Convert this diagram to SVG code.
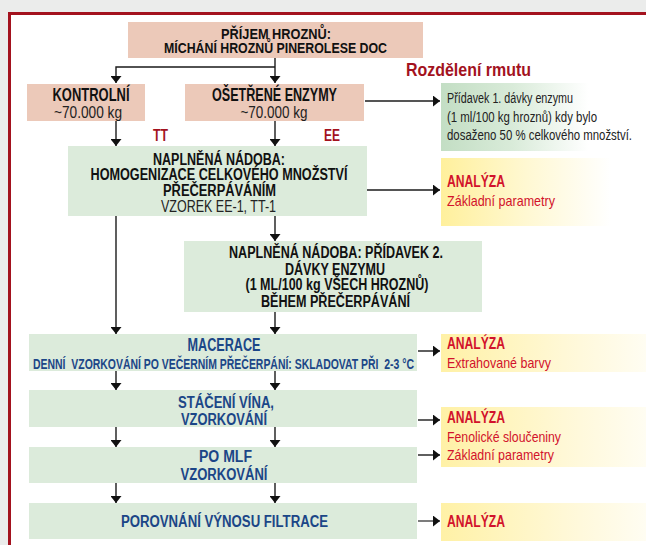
<svg xmlns="http://www.w3.org/2000/svg" width="646" height="545" viewBox="0 0 646 545">
<defs>
<style>
text{font-family:"Liberation Sans",Arial,sans-serif;}
.b{font-weight:bold;fill:#111;text-anchor:middle;font-size:16px;}
.r{fill:#222;text-anchor:middle;font-size:16px;}
.bl{font-weight:bold;fill:#1b4687;text-anchor:middle;font-size:16px;}
.an{font-weight:bold;fill:#d2122b;font-size:16px;}
.ans{fill:#d2122b;font-size:15px;}
.note{fill:#222;font-size:14px;}
.peach{fill:#ecc9b9;}
.green{fill:#dcebdb;}
.c path{fill:none;stroke:#1a1a1a;stroke-width:1.4;marker-end:url(#ah);}
</style>
<marker id="ah" markerUnits="userSpaceOnUse" viewBox="0 0 7 11" markerWidth="7" markerHeight="11" refX="7" refY="5.5" orient="auto">
<path d="M0,0 L7,5.5 L0,11 z" fill="#111"/>
</marker>
<linearGradient id="gGreen" x1="0" y1="0" x2="1" y2="0">
<stop offset="0" stop-color="#c3dec4"/>
<stop offset="0.35" stop-color="#d9ebd9"/>
<stop offset="0.72" stop-color="#ffffff"/>
</linearGradient>
<linearGradient id="gY1" x1="0" y1="0" x2="1" y2="0">
<stop offset="0" stop-color="#fff09c"/>
<stop offset="0.5" stop-color="#fff8d2"/>
<stop offset="1" stop-color="#ffffff"/>
</linearGradient>
<linearGradient id="gY2" x1="0" y1="0" x2="1" y2="0">
<stop offset="0" stop-color="#fff1a6"/>
<stop offset="0.6" stop-color="#fff8d6"/>
<stop offset="1" stop-color="#fffdf2"/>
</linearGradient>
</defs>

<rect x="0" y="0" width="646" height="545" fill="#ebeceb"/>
<rect x="9.5" y="13.5" width="700" height="600" fill="#ffffff" stroke="#a3121e" stroke-width="3"/>

<text x="406" y="76" textLength="125" lengthAdjust="spacingAndGlyphs" style="font-weight:bold;font-size:19px;fill:#a3121e">Rozdělení rmutu</text>
<text x="153" y="141" textLength="15" lengthAdjust="spacingAndGlyphs" style="font-weight:bold;font-size:16px;fill:#a3121e">TT</text>
<text x="324" y="141" textLength="16" lengthAdjust="spacingAndGlyphs" style="font-weight:bold;font-size:16px;fill:#a3121e">EE</text>

<g class="c" id="connectors">
<path d="M275,58 V83"/>
<path d="M275,67 H116 V83"/>
<path d="M116,121 V146"/>
<path d="M275,121 V146"/>
<path d="M365,101 H440" style="stroke:#555;stroke-width:1.8"/>
<path d="M365,190 H440"/>
<path d="M275,216 V241"/>
<path d="M116,216 V334"/>
<path d="M275,312 V334"/>
<path d="M418,351 H440"/>
<path d="M116,371 V390"/>
<path d="M275,371 V390"/>
<path d="M418,420 H440"/>
<path d="M116,427 V447"/>
<path d="M275,427 V447"/>
<path d="M418,455 H440"/>
<path d="M116,483 V503"/>
<path d="M275,483 V503"/>
<path d="M418,521 H440" style="stroke:#444"/>
</g>

<g id="prijem">
<rect class="peach" x="128" y="22" width="295" height="36"/>
<text class="b" x="276" y="39" style="font-size:15px" textLength="110" lengthAdjust="spacingAndGlyphs">PŘÍJEM HROZNŮ:</text>
<text class="b" x="275.5" y="53" style="font-size:15px" textLength="223" lengthAdjust="spacingAndGlyphs">MÍCHÁNÍ HROZNŮ PINEROLESE DOC</text>
</g>

<g id="kontrolni">
<rect class="peach" x="27" y="84" width="118" height="37"/>
<text class="b" x="91" y="101" style="font-size:18px" textLength="77" lengthAdjust="spacingAndGlyphs">KONTROLNÍ</text>
<text class="r" x="88" y="118" style="font-size:17px" textLength="68" lengthAdjust="spacingAndGlyphs">~70.000 kg</text>
</g>

<g id="osetrene">
<rect class="peach" x="185" y="84" width="179" height="37"/>
<text class="b" x="274.5" y="101" style="font-size:18px" textLength="125" lengthAdjust="spacingAndGlyphs">OŠETŘENÉ ENZYMY</text>
<text class="r" x="274" y="118" style="font-size:17px" textLength="67" lengthAdjust="spacingAndGlyphs">~70.000 kg</text>
</g>

<g id="pridavek1">
<rect x="441" y="83" width="205" height="68" fill="url(#gGreen)"/>
<text class="note" x="447" y="103" textLength="126" lengthAdjust="spacingAndGlyphs">Přídavek 1. dávky enzymu</text>
<text class="note" x="447" y="122" textLength="150" lengthAdjust="spacingAndGlyphs">(1 ml/100 kg hroznů) kdy bylo</text>
<text class="note" x="447" y="140" textLength="185" lengthAdjust="spacingAndGlyphs">dosaženo 50 % celkového množství.</text>
</g>

<g id="naplnena1">
<rect class="green" x="68" y="146" width="299" height="70"/>
<text class="b" x="219" y="165" textLength="132" lengthAdjust="spacingAndGlyphs">NAPLNĚNÁ NÁDOBA:</text>
<text class="b" x="219" y="180" textLength="257" lengthAdjust="spacingAndGlyphs">HOMOGENIZACE CELKOVÉHO MNOŽSTVÍ</text>
<text class="b" x="219.5" y="196" textLength="113" lengthAdjust="spacingAndGlyphs">PŘEČERPÁVÁNÍM</text>
<text class="r" x="218.5" y="212" textLength="115" lengthAdjust="spacingAndGlyphs">VZOREK EE-1, TT-1</text>
</g>

<g id="analyza1">
<rect x="441" y="158" width="170" height="68" fill="url(#gY1)"/>
<text class="an" x="447" y="187" textLength="58" lengthAdjust="spacingAndGlyphs">ANALÝZA</text>
<text class="ans" x="447" y="206" textLength="108" lengthAdjust="spacingAndGlyphs">Základní parametry</text>
</g>

<g id="naplnena2">
<rect class="green" x="184" y="241" width="298" height="71"/>
<text class="b" x="336" y="258" textLength="214" lengthAdjust="spacingAndGlyphs">NAPLNĚNÁ NÁDOBA: PŘÍDAVEK 2.</text>
<text class="b" x="335" y="275" textLength="100" lengthAdjust="spacingAndGlyphs">DÁVKY ENZYMU</text>
<text class="b" x="337" y="290" textLength="183" lengthAdjust="spacingAndGlyphs">(1 ML/100 kg VŠECH HROZNŮ)</text>
<text class="b" x="335.5" y="307" textLength="149" lengthAdjust="spacingAndGlyphs">BĚHEM PŘEČERPÁVÁNÍ</text>
</g>

<g id="macerace">
<rect class="green" x="29" y="334" width="388" height="37"/>
<text class="bl" x="224" y="351" style="font-size:18px" textLength="73" lengthAdjust="spacingAndGlyphs">MACERACE</text>
<text class="bl" x="223.5" y="369" style="font-size:14px;white-space:pre" textLength="381" lengthAdjust="spacingAndGlyphs">DENNÍ  VZORKOVÁNÍ PO VEČERNÍM PŘEČERPÁNÍ: SKLADOVAT PŘI  2-3 °C</text>
</g>

<g id="analyza2">
<rect x="441" y="334" width="205" height="38" fill="url(#gY2)"/>
<text class="an" x="447" y="349" textLength="58" lengthAdjust="spacingAndGlyphs">ANALÝZA</text>
<text class="ans" x="447" y="368" textLength="104" lengthAdjust="spacingAndGlyphs">Extrahované barvy</text>
</g>

<g id="staceni">
<rect class="green" x="29" y="390" width="388" height="37"/>
<text class="bl" x="226" y="408" textLength="96" lengthAdjust="spacingAndGlyphs">STÁČENÍ VÍNA,</text>
<text class="bl" x="224" y="425" textLength="86" lengthAdjust="spacingAndGlyphs">VZORKOVÁNÍ</text>
</g>

<g id="analyza3">
<rect x="441" y="407" width="205" height="60" fill="url(#gY2)"/>
<text class="an" x="447" y="423" textLength="58" lengthAdjust="spacingAndGlyphs">ANALÝZA</text>
<text class="ans" x="447" y="442" textLength="114" lengthAdjust="spacingAndGlyphs">Fenolické sloučeniny</text>
<text class="ans" x="447" y="460" textLength="107" lengthAdjust="spacingAndGlyphs">Základní parametry</text>
</g>

<g id="pomlf">
<rect class="green" x="29" y="447" width="388" height="36"/>
<text class="bl" x="225.5" y="462" textLength="53" lengthAdjust="spacingAndGlyphs">PO MLF</text>
<text class="bl" x="224" y="480" textLength="87" lengthAdjust="spacingAndGlyphs">VZORKOVÁNÍ</text>
</g>

<g id="porovnani">
<rect class="green" x="29" y="503" width="388" height="36"/>
<text class="bl" x="224.5" y="527" textLength="207" lengthAdjust="spacingAndGlyphs">POROVNÁNÍ VÝNOSU FILTRACE</text>
</g>

<g id="analyza4">
<rect x="441" y="503" width="205" height="38" fill="url(#gY2)"/>
<text class="an" x="447" y="527" textLength="58" lengthAdjust="spacingAndGlyphs">ANALÝZA</text>
</g>
</svg>
